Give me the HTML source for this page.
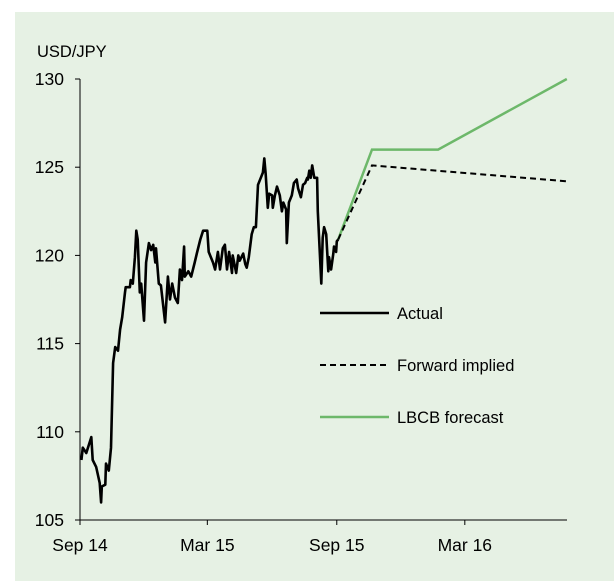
<!DOCTYPE html>
<html><head><meta charset="utf-8"><style>
html,body{margin:0;padding:0;background:#fff;}
svg{display:block;font-family:"Liberation Sans",Arial,sans-serif;}
</style></head><body>
<svg id="chart" width="614" height="585" viewBox="0 0 614 585">
<rect x="15" y="12" width="599" height="569" fill="#e6f1e4"/>
<text x="37" y="57" font-size="16.5" fill="#000">USD/JPY</text>
<g id="axes"></g>
<g id="series"></g>
<g>
<line x1="320" y1="313" x2="389" y2="313" stroke="#000" stroke-width="2.5"/>
<text x="397" y="319" font-size="16.5">Actual</text>
<line x1="320" y1="365" x2="389" y2="365" stroke="#000" stroke-width="2" stroke-dasharray="6,4"/>
<text x="397" y="371" font-size="16.5">Forward implied</text>
<line x1="320" y1="417" x2="389" y2="417" stroke="#6db86a" stroke-width="2.5"/>
<text x="397" y="423" font-size="16.5">LBCB forecast</text>
</g>
</svg>
<script>
// days since 1 Sep 2014
const actualDays=[2,4,9,16,18,23,28,30,31,36,37,41,44,47,50,54,57,60,64,65,71,72,75,78,80,82,85,87,91,94,98,101,104,107,108,112,115,121,125,128,131,135,139,142,145,148,149,154,158,163,166,171,175,181,183,189,192,196,199,203,206,209,212,216,217,222,225,227,232,235,237,240,244,247,250,253,257,260,262,264,267,269,273,274,277,280,284,287,289,293,294,297,301,304,308,310,314,317,320,323,324,326,328,330,333,337,338,343,345,347,350,353,354,357,360,361,364,365,367];
const actualValues=[108.4,109.1,108.8,109.7,108.4,108.0,107.1,106.0,106.9,107.0,108.2,107.8,109.1,113.9,114.8,114.6,115.8,116.5,117.9,118.2,118.2,118.6,118.4,119.9,121.4,120.9,117.9,118.4,116.3,119.6,120.7,120.3,120.6,119.6,120.4,118.4,118.3,116.2,118.8,117.5,118.4,117.6,117.3,119.2,118.6,120.5,118.8,119.1,118.8,119.6,120.1,120.9,121.4,121.4,120.2,119.6,119.2,120.2,119.2,120.4,120.6,119.2,120.2,119.0,120.0,119.0,120.0,119.7,120.1,119.5,119.3,119.9,121.2,121.6,121.6,124.0,124.4,124.7,125.5,124.6,122.7,123.5,123.4,122.7,123.4,123.9,123.4,122.5,123.0,122.6,120.7,123.0,123.4,124.1,124.3,123.8,123.3,124.0,124.1,124.4,124.3,124.8,124.4,125.1,124.4,124.4,122.5,118.4,121.0,121.6,121.2,119.1,119.9,119.2,120.1,120.5,120.2,120.8,120.9];
const forwardDays=[367,415,692];
const forwardValues=[120.9,125.1,124.2];
const forecastDays=[367,415,509,692];
const forecastValues=[120.9,126.0,126.0,130.0];
const yTicks=[105,110,115,120,125,130];
const xTickDays=[0,181,365,547];
const xTickLabels=["Sep 14","Mar 15","Sep 15","Mar 16"];

const X0=80,X1=567,Y0=520,Y1=79;
const xs=d=>X0+d*0.7035;
const ys=v=>Y0-(v-105)*(Y0-Y1)/25;
const NS="http://www.w3.org/2000/svg";
function mk(tag,attrs,parent){const e=document.createElementNS(NS,tag);for(const k in attrs)e.setAttribute(k,attrs[k]);parent.appendChild(e);return e;}
const axes=document.getElementById('axes'),series=document.getElementById('series');
let l=mk('line',{x1:X0,y1:Y1,x2:X0,y2:Y0,stroke:'#000','stroke-width':1},axes);


l=mk('line',{x1:X0,y1:Y0,x2:X1,y2:Y0,stroke:'#000','stroke-width':1},axes);


yTicks.forEach(v=>{
  const t=mk('line',{x1:X0-5,y1:ys(v),x2:X0,y2:ys(v),stroke:'#000','stroke-width':1},axes);
  
  
  const tx=mk('text',{x:64,y:ys(v)+6,'font-size':17.5,'text-anchor':'end'},axes);
  tx.textContent=v;
  
  
});
xTickDays.forEach((d,i)=>{
  const t=mk('line',{x1:xs(d),y1:Y0,x2:xs(d),y2:Y0+5,stroke:'#000','stroke-width':1},axes);
  
  
  const tx=mk('text',{x:xs(d),y:551,'font-size':17.5,'text-anchor':'middle'},axes);
  tx.textContent=xTickLabels[i];
  
  
});
const pts=(ds,vs)=>ds.map((d,i)=>xs(d).toFixed(1)+','+ys(vs[i]).toFixed(1)).join(' ');
let p=mk('polyline',{points:pts(forecastDays,forecastValues),fill:'none',stroke:'#6db86a','stroke-width':2.5},series);


p=mk('polyline',{points:pts(forwardDays,forwardValues),fill:'none',stroke:'#000','stroke-width':2,'stroke-dasharray':'6,4'},series);


p=mk('polyline',{points:pts(actualDays,actualValues),fill:'none',stroke:'#000','stroke-width':2.6,'stroke-linejoin':'round'},series);


</script>
</body></html>
